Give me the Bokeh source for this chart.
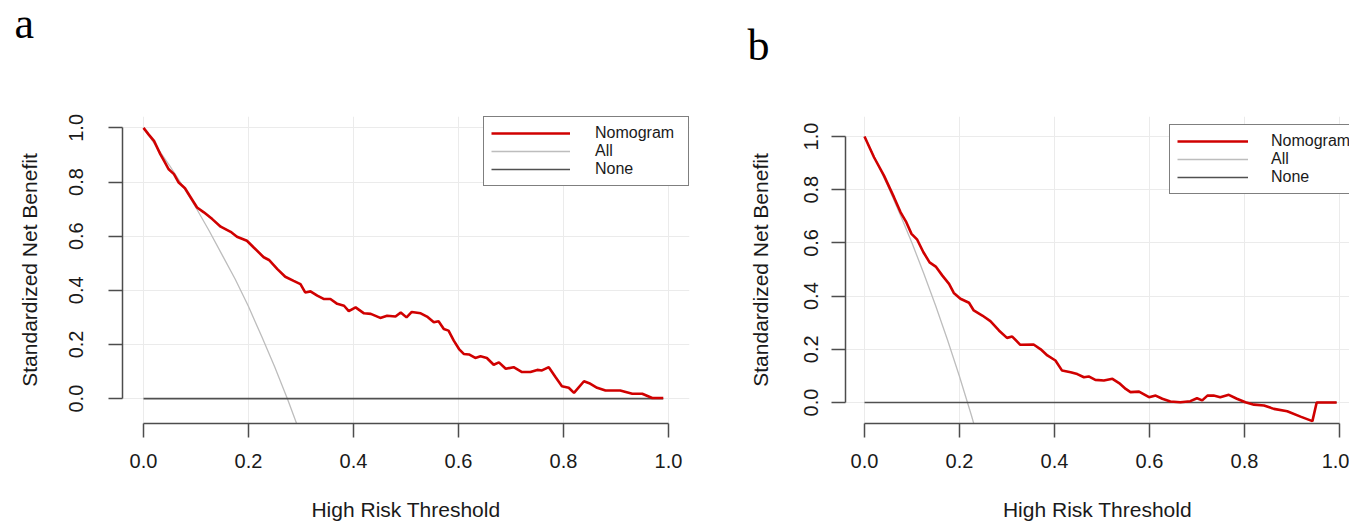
from bokeh.plotting import figure
from bokeh.layouts import row
from bokeh.models import Range1d, FixedTicker, PrintfTickFormatter, Legend, LegendItem, Label
from bokeh.embed import file_html
from bokeh.resources import INLINE

# ---------------- data ----------------
ticks = [0.0, 0.2, 0.4, 0.6, 0.8, 1.0]
series_names = ["Nomogram", "All", "None"]

# panel a
a_threshold = [0.000, 0.010, 0.020, 0.032, 0.040, 0.048, 0.058, 0.067, 0.079, 0.090,
               0.102, 0.115, 0.131, 0.147, 0.166, 0.178, 0.197, 0.210, 0.229, 0.239,
               0.255, 0.270, 0.286, 0.299, 0.308, 0.318, 0.331, 0.343, 0.356, 0.369,
               0.382, 0.391, 0.404, 0.420, 0.433, 0.451, 0.464, 0.480, 0.490, 0.501,
               0.511, 0.528, 0.540, 0.553, 0.562, 0.572, 0.581, 0.591, 0.601, 0.610,
               0.620, 0.632, 0.642, 0.654, 0.667, 0.677, 0.690, 0.705, 0.721, 0.737,
               0.750, 0.759, 0.772, 0.785, 0.797, 0.810, 0.820, 0.839, 0.849, 0.864,
               0.880, 0.908, 0.931, 0.950, 0.969, 0.990]
a_nomogram = [1.000, 0.975, 0.952, 0.903, 0.875, 0.847, 0.829, 0.798, 0.777, 0.743,
              0.706, 0.688, 0.663, 0.635, 0.616, 0.598, 0.583, 0.558, 0.522, 0.512,
              0.478, 0.450, 0.435, 0.423, 0.392, 0.396, 0.380, 0.368, 0.368, 0.350,
              0.343, 0.323, 0.337, 0.315, 0.313, 0.298, 0.306, 0.303, 0.318, 0.300,
              0.320, 0.315, 0.303, 0.282, 0.286, 0.257, 0.251, 0.214, 0.183, 0.165,
              0.163, 0.150, 0.156, 0.150, 0.125, 0.134, 0.110, 0.116, 0.098, 0.098,
              0.106, 0.104, 0.116, 0.079, 0.046, 0.040, 0.021, 0.064, 0.057, 0.040,
              0.030, 0.030, 0.018, 0.018, 0.002, 0.002]
a_all_threshold = [0.0, 0.025, 0.05, 0.075, 0.10, 0.125, 0.15, 0.175, 0.20, 0.225, 0.25, 0.275, 0.30]
a_all = [1.0, 0.93, 0.86, 0.785, 0.705, 0.62, 0.53, 0.44, 0.34, 0.23, 0.117, -0.005, -0.136]
a_none_threshold = [0.0, 0.99]
a_none = [0.0, 0.0]

# panel b
b_threshold = [0.000, 0.020, 0.041, 0.062, 0.076, 0.088, 0.099, 0.111, 0.124, 0.137,
               0.150, 0.164, 0.178, 0.188, 0.202, 0.220, 0.230, 0.248, 0.265, 0.283,
               0.300, 0.311, 0.328, 0.356, 0.371, 0.385, 0.402, 0.416, 0.434, 0.448,
               0.462, 0.472, 0.486, 0.504, 0.522, 0.536, 0.550, 0.560, 0.578, 0.599,
               0.613, 0.627, 0.644, 0.665, 0.686, 0.700, 0.711, 0.722, 0.735, 0.749,
               0.767, 0.784, 0.802, 0.820, 0.841, 0.862, 0.890, 0.918, 0.943, 0.952,
               0.974, 0.994]
b_nomogram = [1.000, 0.922, 0.853, 0.772, 0.715, 0.678, 0.634, 0.612, 0.565, 0.527,
              0.511, 0.477, 0.446, 0.412, 0.390, 0.375, 0.346, 0.327, 0.306, 0.271,
              0.243, 0.248, 0.217, 0.218, 0.200, 0.177, 0.158, 0.120, 0.114, 0.107,
              0.095, 0.098, 0.085, 0.083, 0.089, 0.073, 0.051, 0.039, 0.041, 0.020,
              0.026, 0.014, 0.004, 0.001, 0.005, 0.016, 0.008, 0.026, 0.026, 0.020,
              0.029, 0.014, 0.001, -0.008, -0.011, -0.024, -0.033, -0.053, -0.070, 0.000,
              0.000, 0.000]
b_all_threshold = [0.0, 0.025, 0.05, 0.075, 0.10, 0.125, 0.15, 0.175, 0.20, 0.225, 0.25]
b_all = [1.0, 0.907, 0.81, 0.707, 0.60, 0.484, 0.363, 0.234, 0.098, -0.048, -0.203]
b_none_threshold = [0.0, 0.994]
b_none = [0.0, 0.0]

# ---------------- styles ----------------
SANS = "Liberation Sans"
RED = "#d00000"
GREY = "#bdbdbd"
DARK = "#505050"
AXIS = "#4d4d4d"
TXT = "#1a1a1a"
H = 523
FRAME_TOP = 116
FRAME_BOTTOM = 423


def make_panel(width, mbl, mbr, x_end, y_start, y_end,
               tx, nom, atx, av, ntx, nv, ylab_standoff, ytitle_standoff,
               legend_kw, letter, letter_pos):
    p = figure(width=width, height=H,
               x_range=Range1d(-0.04, x_end), y_range=Range1d(y_start, y_end),
               output_backend="svg", toolbar_location=None,
               min_border_left=mbl, min_border_right=mbr,
               min_border_top=FRAME_TOP, min_border_bottom=H - FRAME_BOTTOM)
    p.outline_line_color = None
    p.background_fill_color = "white"
    p.border_fill_color = "white"

    for ax in (p.xaxis[0], p.yaxis[0]):
        ax.ticker = FixedTicker(ticks=ticks)
        ax.formatter = PrintfTickFormatter(format="%.1f")
        ax.bounds = (0, 1)
        ax.axis_line_color = AXIS
        ax.axis_line_width = 1.5
        ax.major_tick_line_color = AXIS
        ax.major_tick_line_width = 1.5
        ax.major_tick_in = 0
        ax.major_tick_out = 14
        ax.minor_tick_line_color = None
        ax.major_label_text_font = SANS
        ax.major_label_text_font_size = "20px"
        ax.major_label_text_color = TXT
        ax.axis_label_text_font = SANS
        ax.axis_label_text_font_size = "21px"
        ax.axis_label_text_font_style = "normal"
        ax.axis_label_text_color = TXT

    p.xaxis.axis_label = "High Risk Threshold"
    p.yaxis.axis_label = "Standardized Net Benefit"
    p.yaxis.major_label_orientation = "vertical"
    p.xaxis.major_label_standoff = 16
    p.yaxis.major_label_standoff = ylab_standoff
    p.xaxis.axis_label_standoff = 27
    p.yaxis.axis_label_standoff = ytitle_standoff

    p.xgrid.ticker = FixedTicker(ticks=ticks)
    p.ygrid.ticker = FixedTicker(ticks=ticks)
    p.grid.grid_line_color = "#ebebeb"
    p.grid.grid_line_width = 1

    r_all = p.line(atx, av, line_color=GREY, line_width=1.3)
    r_none = p.line(ntx, nv, line_color=DARK, line_width=1.6)
    r_nom = p.line(tx, nom, line_color=RED, line_width=2.6)

    legend = Legend(items=[LegendItem(label=series_names[0], renderers=[r_nom]),
                           LegendItem(label=series_names[1], renderers=[r_all]),
                           LegendItem(label=series_names[2], renderers=[r_none])],
                    border_line_color="black", border_line_width=1,
                    background_fill_color="white", background_fill_alpha=1,
                    padding=7, margin=0, spacing=0,
                    glyph_height=16, label_height=16,
                    label_text_font=SANS, label_text_font_size="16px",
                    label_text_color=TXT, **legend_kw)
    p.add_layout(legend)

    # panel tag in the top margin (side panel above the frame, screen offsets)
    p.add_layout(Label(x=letter_pos[0], y=letter_pos[1], x_units="screen", y_units="screen",
                       text=letter, text_font="Liberation Serif", text_font_size="44px",
                       text_color="black", text_baseline="alphabetic", text_align="left"),
                 "above")
    return p


pa = make_panel(709, 122, 20, 1.04, -0.092, 1.042,
                a_threshold, a_nomogram, a_all_threshold, a_all, a_none_threshold, a_none,
                25, 26,
                dict(location="top_right", glyph_width=79, label_standoff=25, label_width=86),
                "a", (-108, 93))

pb = make_panel(640, 136, 0, 1.0211, -0.0789, 1.0752,
                b_threshold, b_nomogram, b_all_threshold, b_all, b_none_threshold, b_none,
                13, 30,
                dict(location=(324, 229), glyph_width=71, label_standoff=23, label_width=86),
                "b", (-98, 71))

layout = row(pa, pb)
open("out.html", "w").write(file_html(layout, INLINE))
